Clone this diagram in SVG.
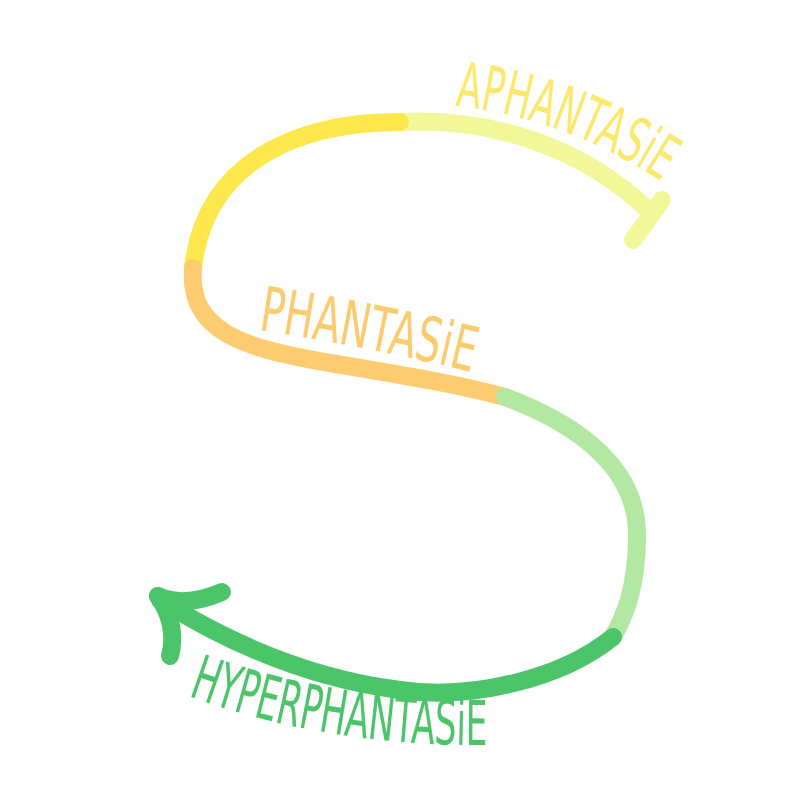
<svg xmlns="http://www.w3.org/2000/svg" width="800" height="800" viewBox="0 0 800 800">
<style>
.seg{fill:none;stroke-width:18;stroke-linecap:round;stroke-linejoin:round}
.lbl{font-family:"Liberation Sans Narrow","DejaVu Sans Condensed","Liberation Sans",sans-serif;font-size:62px;font-weight:normal}
</style>
<defs>
<path id="pA" d="M455,106 Q570,118 674,190"/>
<path id="pP" d="M258,330 Q370,347 476,373"/>
<path id="pH" d="M188,696 Q330,748 500,745"/>
</defs>
<rect width="800" height="800" fill="#ffffff"/>
<g id="connectors">
<path class="seg" stroke="#f2f89a" d="M400,122 C490,118 580,145 648,210"/>
<path class="seg" stroke="#f2f89a" d="M662,200 L633,240"/>
<path class="seg" stroke="#fce84c" d="M400,122 C300,122 205,160 193,268"/>
<path class="seg" stroke="#fdcc70" d="M193,268 C188,330 240,348 330,363 S460,385 505,397"/>
<path class="seg" stroke="#b2e8a2" d="M505,397 C580,425 640,470 637,540 C636,590 625,615 613,637"/>
<path class="seg" stroke="#4cc56a" d="M613,637 C560,680 470,700 400,690 C320,680 240,650 160,600"/>
<path class="seg" stroke="#4cc56a" stroke-width="19" d="M158,596 Q178,625 170,656"/>
<path class="seg" stroke="#4cc56a" stroke-width="19" d="M158,596 Q185,608 222,592"/>
</g>
<g id="aphantasie">
<text class="lbl" fill="#fce86a"><textPath href="#pA" textLength="222" lengthAdjust="spacingAndGlyphs">APHANTASiE</textPath></text>
</g>
<g id="phantasie">
<text class="lbl" fill="#fccb6e"><textPath href="#pP" textLength="218" lengthAdjust="spacingAndGlyphs">PHANTASiE</textPath></text>
</g>
<g id="hyperphantasie">
<text class="lbl" fill="#4cc56a"><textPath href="#pH" textLength="305" lengthAdjust="spacingAndGlyphs">HYPERPHANTASiE</textPath></text>
</g>
</svg>
